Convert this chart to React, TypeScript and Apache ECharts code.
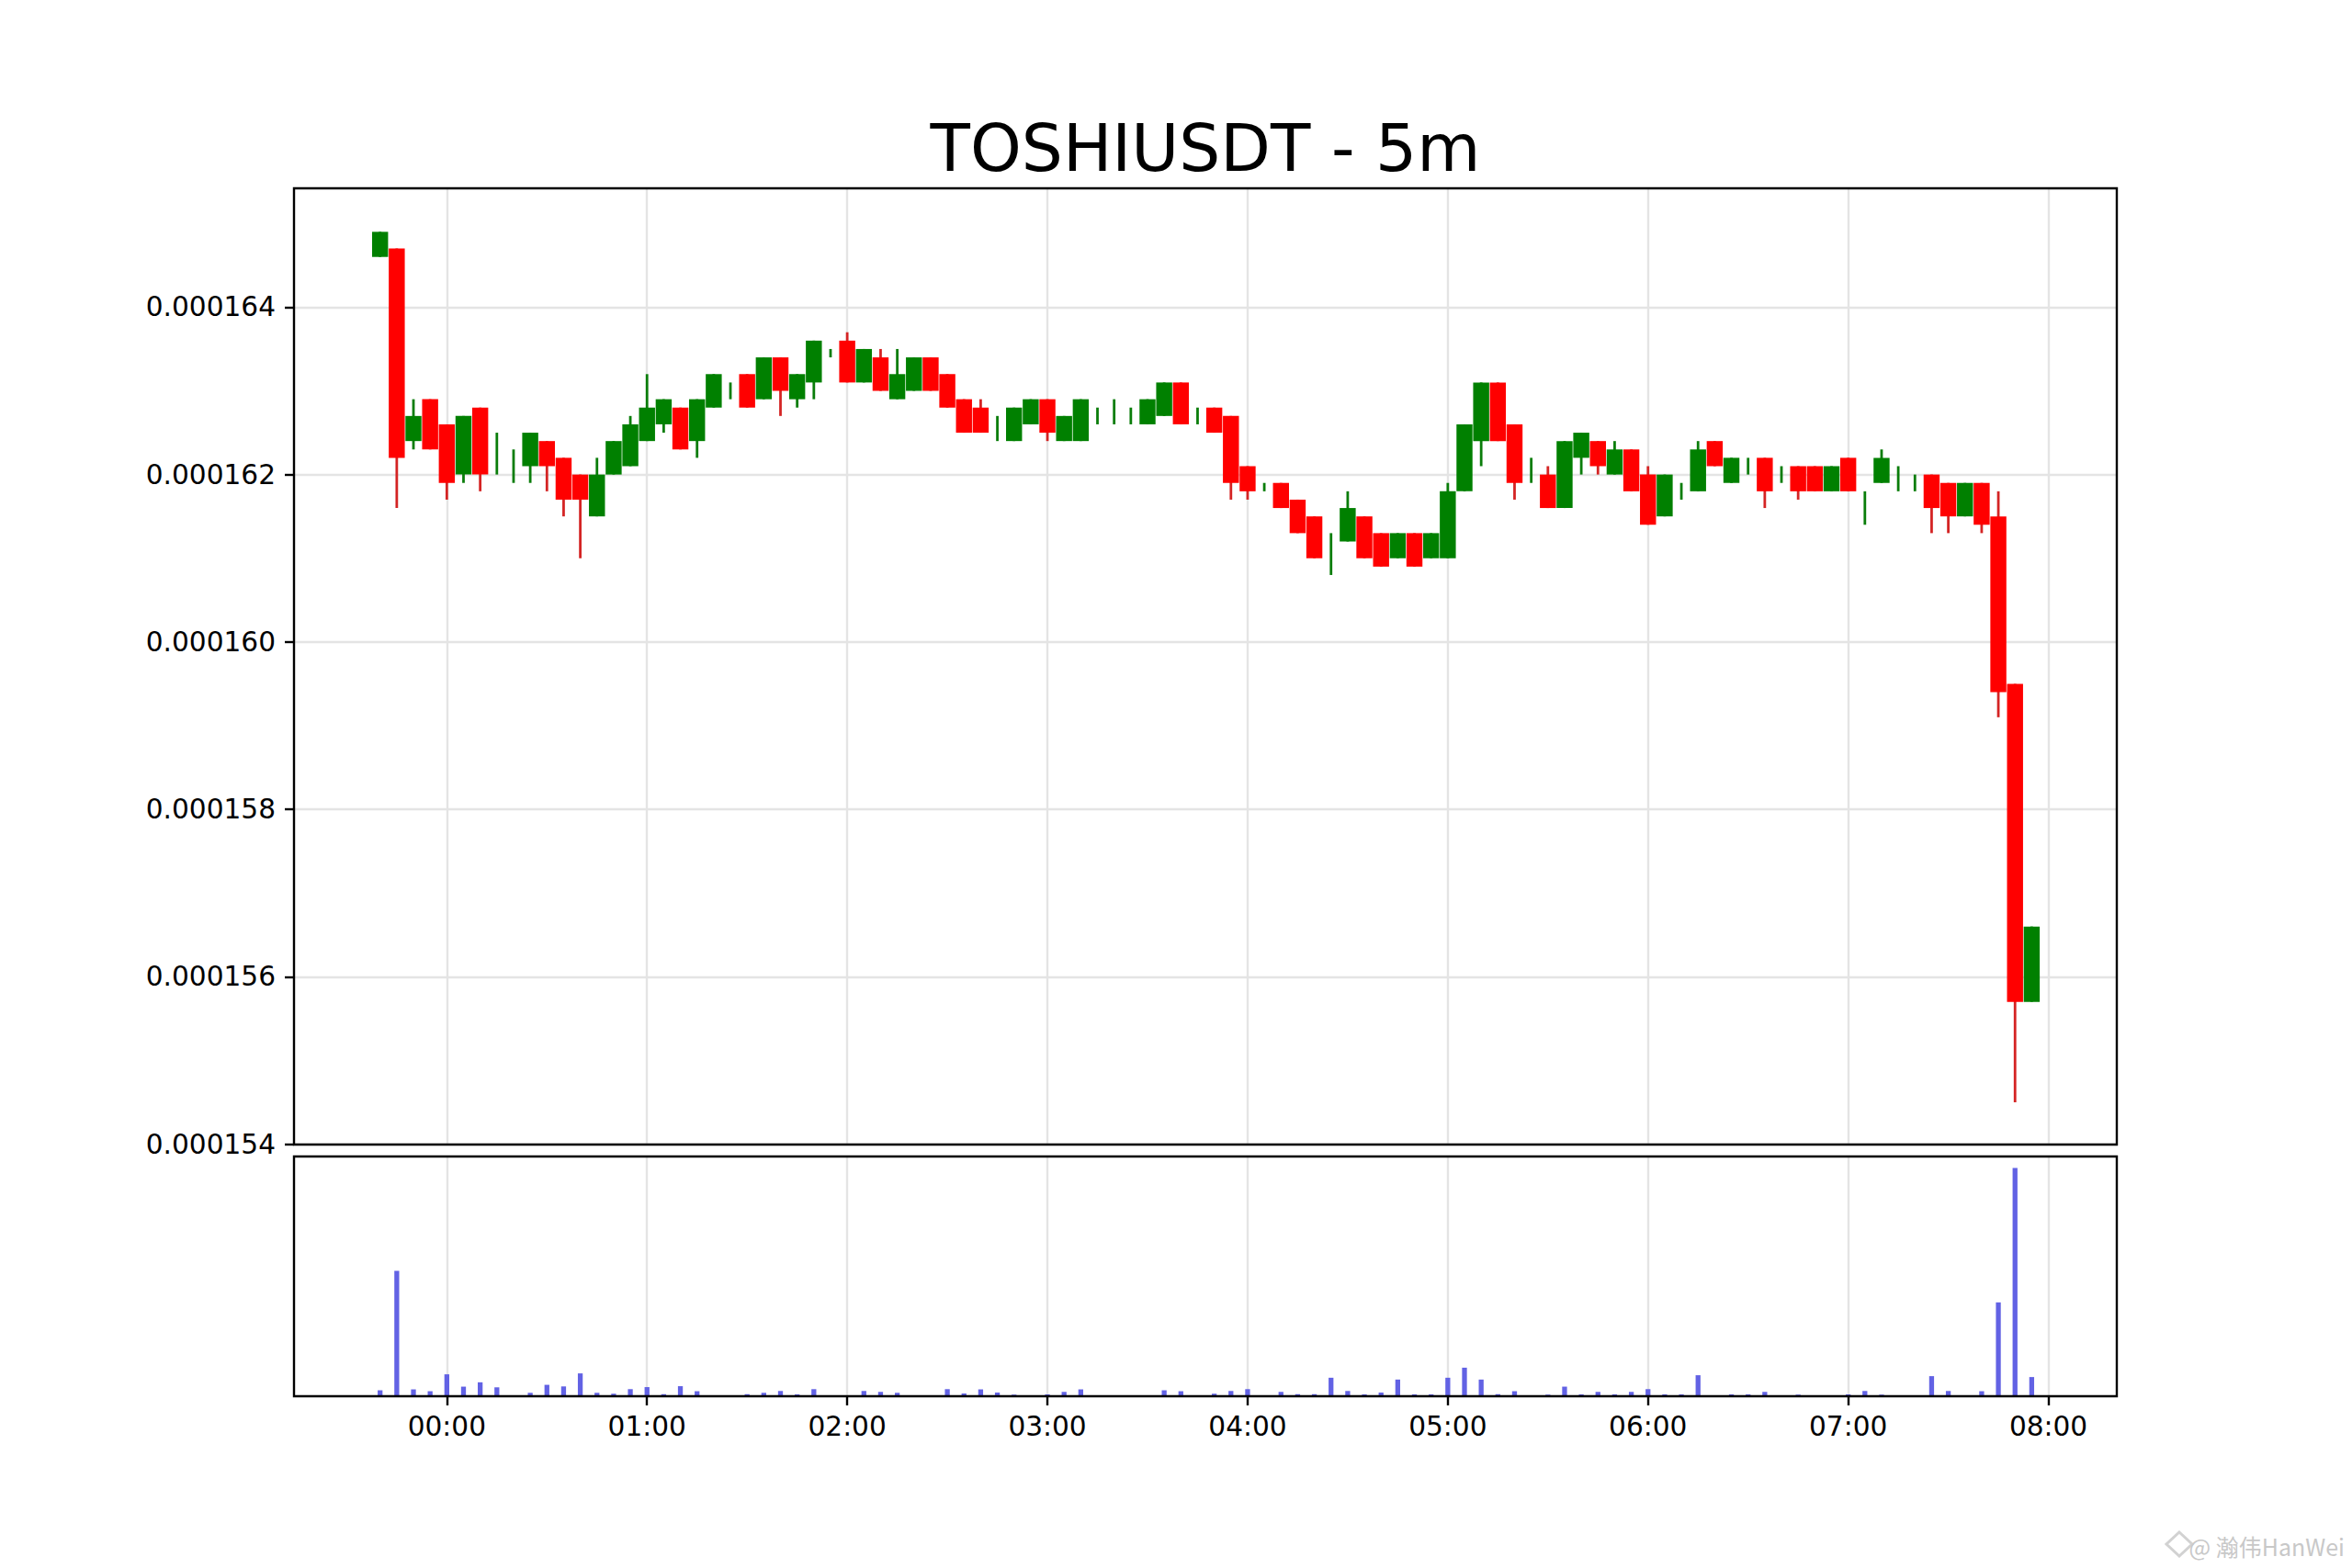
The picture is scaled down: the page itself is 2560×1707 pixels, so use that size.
import React, { useEffect, useRef } from "react";
import * as echarts from "echarts";

const TITLE = "TOSHIUSDT - 5m";
const WATERMARK = "@ 瀚伟HanWei";

const TIMES = [
  "23:40", "23:45", "23:50", "23:55",
  "00:00", "00:05", "00:10", "00:15", "00:20", "00:25", "00:30", "00:35", "00:40", "00:45", "00:50", "00:55",
  "01:00", "01:05", "01:10", "01:15", "01:20", "01:25", "01:30", "01:35", "01:40", "01:45", "01:50", "01:55",
  "02:00", "02:05", "02:10", "02:15", "02:20", "02:25", "02:30", "02:35", "02:40", "02:45", "02:50", "02:55",
  "03:00", "03:05", "03:10", "03:15", "03:20", "03:25", "03:30", "03:35", "03:40", "03:45", "03:50", "03:55",
  "04:00", "04:05", "04:10", "04:15", "04:20", "04:25", "04:30", "04:35", "04:40", "04:45", "04:50", "04:55",
  "05:00", "05:05", "05:10", "05:15", "05:20", "05:25", "05:30", "05:35", "05:40", "05:45", "05:50", "05:55",
  "06:00", "06:05", "06:10", "06:15", "06:20", "06:25", "06:30", "06:35", "06:40", "06:45", "06:50", "06:55",
  "07:00", "07:05", "07:10", "07:15", "07:20", "07:25", "07:30", "07:35", "07:40", "07:45", "07:50", "07:55",
];

const OPEN = [
  0.0001646, 0.0001647, 0.0001624, 0.0001629, 0.0001626, 0.000162, 0.0001628, 0.000162, 0.000162, 0.0001621,
  0.0001624, 0.0001622, 0.000162, 0.0001615, 0.000162, 0.0001621, 0.0001624, 0.0001626, 0.0001628, 0.0001624,
  0.0001628, 0.0001631, 0.0001632, 0.0001629, 0.0001634, 0.0001629, 0.0001631, 0.0001635, 0.0001636, 0.0001631,
  0.0001634, 0.0001629, 0.000163, 0.0001634, 0.0001632, 0.0001629, 0.0001628, 0.0001625, 0.0001624, 0.0001626,
  0.0001629, 0.0001624, 0.0001624, 0.0001627, 0.0001627, 0.0001627, 0.0001626, 0.0001627, 0.0001631, 0.0001627,
  0.0001628, 0.0001627, 0.0001621, 0.0001619, 0.0001619, 0.0001617, 0.0001615, 0.000161, 0.0001612, 0.0001615,
  0.0001613, 0.000161, 0.0001613, 0.000161, 0.000161, 0.0001618, 0.0001624, 0.0001631, 0.0001626, 0.000162,
  0.000162, 0.0001616, 0.0001622, 0.0001624, 0.000162, 0.0001623, 0.000162, 0.0001615, 0.0001618, 0.0001618,
  0.0001624, 0.0001619, 0.0001621, 0.0001622, 0.000162, 0.0001621, 0.0001621, 0.0001618, 0.0001622, 0.0001616,
  0.0001619, 0.000162, 0.0001619, 0.000162, 0.0001619, 0.0001615, 0.0001619, 0.0001615, 0.0001595, 0.0001557,
];

const HIGH = [
  0.0001649, 0.0001647, 0.0001629, 0.0001629, 0.0001626, 0.0001627, 0.0001628, 0.0001625, 0.0001623, 0.0001625,
  0.0001624, 0.0001622, 0.000162, 0.0001622, 0.0001624, 0.0001627, 0.0001632, 0.0001629, 0.0001628, 0.0001629,
  0.0001632, 0.0001631, 0.0001632, 0.0001634, 0.0001634, 0.0001632, 0.0001636, 0.0001635, 0.0001637, 0.0001635,
  0.0001635, 0.0001635, 0.0001634, 0.0001634, 0.0001632, 0.0001629, 0.0001629, 0.0001627, 0.0001628, 0.0001629,
  0.0001629, 0.0001627, 0.0001629, 0.0001628, 0.0001629, 0.0001628, 0.0001629, 0.0001631, 0.0001631, 0.0001628,
  0.0001628, 0.0001627, 0.0001621, 0.0001619, 0.0001619, 0.0001617, 0.0001615, 0.0001613, 0.0001618, 0.0001615,
  0.0001613, 0.0001613, 0.0001613, 0.0001613, 0.0001619, 0.0001626, 0.0001631, 0.0001631, 0.0001626, 0.0001622,
  0.0001621, 0.0001624, 0.0001625, 0.0001624, 0.0001624, 0.0001623, 0.0001621, 0.000162, 0.0001619, 0.0001624,
  0.0001624, 0.0001622, 0.0001622, 0.0001622, 0.0001621, 0.0001621, 0.0001621, 0.0001621, 0.0001622, 0.0001618,
  0.0001623, 0.0001621, 0.000162, 0.000162, 0.0001619, 0.0001619, 0.0001619, 0.0001618, 0.0001595, 0.0001566,
];

const LOW = [
  0.0001646, 0.0001616, 0.0001623, 0.0001623, 0.0001617, 0.0001619, 0.0001618, 0.000162, 0.0001619, 0.0001619,
  0.0001618, 0.0001615, 0.000161, 0.0001615, 0.000162, 0.0001621, 0.0001624, 0.0001625, 0.0001623, 0.0001622,
  0.0001628, 0.0001629, 0.0001628, 0.0001629, 0.0001627, 0.0001628, 0.0001629, 0.0001634, 0.0001631, 0.0001631,
  0.000163, 0.0001629, 0.000163, 0.000163, 0.0001628, 0.0001625, 0.0001625, 0.0001624, 0.0001624, 0.0001626,
  0.0001624, 0.0001624, 0.0001624, 0.0001626, 0.0001626, 0.0001626, 0.0001626, 0.0001627, 0.0001626, 0.0001626,
  0.0001625, 0.0001617, 0.0001617, 0.0001618, 0.0001616, 0.0001613, 0.000161, 0.0001608, 0.0001612, 0.000161,
  0.0001609, 0.000161, 0.0001609, 0.000161, 0.000161, 0.0001618, 0.0001621, 0.0001624, 0.0001617, 0.0001619,
  0.0001616, 0.0001616, 0.000162, 0.000162, 0.000162, 0.0001618, 0.0001614, 0.0001615, 0.0001617, 0.0001618,
  0.0001621, 0.0001619, 0.000162, 0.0001616, 0.0001619, 0.0001617, 0.0001618, 0.0001618, 0.0001618, 0.0001614,
  0.0001619, 0.0001618, 0.0001618, 0.0001613, 0.0001613, 0.0001615, 0.0001613, 0.0001591, 0.0001545, 0.0001557,
];

const CLOSE = [
  0.0001649, 0.0001622, 0.0001627, 0.0001623, 0.0001619, 0.0001627, 0.000162, 0.000162, 0.000162, 0.0001625,
  0.0001621, 0.0001617, 0.0001617, 0.000162, 0.0001624, 0.0001626, 0.0001628, 0.0001629, 0.0001623, 0.0001629,
  0.0001632, 0.0001631, 0.0001628, 0.0001634, 0.000163, 0.0001632, 0.0001636, 0.0001635, 0.0001631, 0.0001635,
  0.000163, 0.0001632, 0.0001634, 0.000163, 0.0001628, 0.0001625, 0.0001625, 0.0001625, 0.0001628, 0.0001629,
  0.0001625, 0.0001627, 0.0001629, 0.0001627, 0.0001627, 0.0001627, 0.0001629, 0.0001631, 0.0001626, 0.0001627,
  0.0001625, 0.0001619, 0.0001618, 0.0001619, 0.0001616, 0.0001613, 0.000161, 0.000161, 0.0001616, 0.000161,
  0.0001609, 0.0001613, 0.0001609, 0.0001613, 0.0001618, 0.0001626, 0.0001631, 0.0001624, 0.0001619, 0.000162,
  0.0001616, 0.0001624, 0.0001625, 0.0001621, 0.0001623, 0.0001618, 0.0001614, 0.000162, 0.0001618, 0.0001623,
  0.0001621, 0.0001622, 0.0001621, 0.0001618, 0.000162, 0.0001618, 0.0001618, 0.0001621, 0.0001618, 0.0001616,
  0.0001622, 0.000162, 0.0001619, 0.0001616, 0.0001615, 0.0001619, 0.0001614, 0.0001594, 0.0001557, 0.0001566,
];

// relative volume (no scale shown in the reference)
const VOLUME = [
  2.6, 54.9, 3.0, 2.2, 9.6, 4.2, 6.1, 3.9, 0.4, 1.5,
  5.0, 4.3, 10.0, 1.5, 1.1, 3.1, 4.0, 0.9, 4.4, 2.2,
  0.3, 0.3, 0.9, 1.5, 2.3, 0.8, 3.1, 0.2, 0.3, 2.3,
  1.9, 1.5, 0.2, 0.2, 3.1, 1.2, 3.0, 1.6, 0.7, 0.2,
  0.8, 1.9, 3.0, 0.3, 0.3, 0.2, 0.4, 2.6, 2.2, 0.4,
  1.1, 2.3, 3.1, 0.3, 1.9, 0.9, 0.9, 8.1, 2.3, 0.8,
  1.6, 7.3, 0.8, 0.8, 8.1, 12.5, 7.3, 0.9, 2.2, 0.3,
  0.7, 4.2, 0.8, 1.9, 0.8, 1.9, 3.1, 0.8, 0.8, 9.2,
  0.3, 0.8, 0.8, 1.9, 0.3, 0.7, 0.2, 0.3, 0.8, 2.3,
  0.7, 0.3, 0.3, 8.8, 2.3, 0.3, 2.2, 41.1, 100, 8.4,
];

const HOUR_TICKS = [0, 60, 120, 180, 240, 300, 360, 420, 480];
const PRICE_TICKS = [0.000154, 0.000156, 0.000158, 0.00016, 0.000162, 0.000164];

const X_MIN = -45.8;
const X_MAX = 500.5;
const Y_MIN = 0.000153995;
const Y_MAX = 0.00016542;
const BODY_W = 4.8; // minutes
const FONT = "DejaVu Sans";

function toMinutes(t: string): number {
  const [h, m] = t.split(":").map(Number);
  const v = h * 60 + m;
  return h >= 12 ? v - 1440 : v;
}

function fmtTime(v: number): string {
  const m = ((Math.round(v) % 1440) + 1440) % 1440;
  const hh = String(Math.floor(m / 60)).padStart(2, "0");
  const mm = String(m % 60).padStart(2, "0");
  return `${hh}:${mm}`;
}

export default function App() {
  const ref = useRef<HTMLDivElement>(null);

  useEffect(() => {
    if (!ref.current) return;
    const chart = echarts.init(ref.current, undefined, { renderer: "svg" });
    const xs = TIMES.map(toMinutes);
    const candleData = xs.map((x, i) => [x, OPEN[i], CLOSE[i], LOW[i], HIGH[i]]);
    const volData = xs.map((x, i) => [x, VOLUME[i]]);
    const volMax = Math.max(...VOLUME) * 1.05;

    const gridLine = { show: true, lineStyle: { color: "#e4e4e4", width: 2.4 } };
    const tickStyle = { color: "#000", width: 2.4 };
    const labelStyle = { color: "#000", fontSize: 29.6, fontFamily: FONT };
    const noLine = { show: false, onZero: false };

    const option: any = {
      animation: false,
      backgroundColor: "#ffffff",
      grid: [
        { left: 320, top: 205, width: 1984, height: 1041, show: true, borderColor: "#000", borderWidth: 2.4, backgroundColor: "transparent", z: 5 },
        { left: 320, top: 1259, width: 1984, height: 261, show: true, borderColor: "#000", borderWidth: 2.4, backgroundColor: "transparent", z: 5 },
      ],
      xAxis: [
        {
          type: "value", gridIndex: 0, min: X_MIN, max: X_MAX, position: "bottom",
          axisLine: noLine,
          axisTick: { show: false, customValues: HOUR_TICKS },
          axisLabel: { show: false, customValues: HOUR_TICKS },
          splitLine: gridLine,
        },
        {
          type: "value", gridIndex: 1, min: X_MIN, max: X_MAX, position: "bottom",
          axisLine: noLine,
          axisTick: { show: true, length: 10, lineStyle: tickStyle, customValues: HOUR_TICKS },
          axisLabel: { ...labelStyle, margin: 18, customValues: HOUR_TICKS, formatter: (v: number) => fmtTime(v) },
          splitLine: gridLine,
        },
      ],
      yAxis: [
        {
          type: "value", gridIndex: 0, min: Y_MIN, max: Y_MAX, position: "left",
          axisLine: noLine,
          axisTick: { show: true, length: 10, lineStyle: tickStyle, customValues: PRICE_TICKS },
          axisLabel: { ...labelStyle, margin: 20, customValues: PRICE_TICKS, formatter: (v: number) => v.toFixed(6) },
          splitLine: gridLine,
        },
        {
          type: "value", gridIndex: 1, min: 0, max: volMax, position: "left",
          axisLine: noLine, axisTick: { show: false }, axisLabel: { show: false }, splitLine: { show: false },
        },
      ],
      series: [
        {
          type: "custom",
          name: "price",
          xAxisIndex: 0,
          yAxisIndex: 0,
          clip: true,
          encode: { x: 0, y: [1, 2, 3, 4] },
          data: candleData,
          renderItem: (params: any, api: any) => {
            const x = api.value(0);
            const o = api.value(1);
            const c = api.value(2);
            const l = api.value(3);
            const h = api.value(4);
            const po = api.coord([x, o]);
            const pc = api.coord([x, c]);
            const pl = api.coord([x, l]);
            const ph = api.coord([x, h]);
            const w = api.size([BODY_W, 0])[0];
            const up = c >= o;
            const bodyColor = up ? "#008000" : "#ff0000";
            const wickColor = up ? "#0a7d0a" : "#d42424";
            const top = Math.min(po[1], pc[1]);
            const hgt = Math.abs(po[1] - pc[1]);
            const children: any[] = [
              { type: "line", shape: { x1: ph[0], y1: ph[1], x2: pl[0], y2: pl[1] }, style: { stroke: wickColor, lineWidth: 2.8 } },
            ];
            if (hgt > 0.01) {
              children.push({ type: "rect", shape: { x: po[0] - w / 2, y: top, width: w, height: hgt }, style: { fill: bodyColor } });
            }
            return { type: "group", children };
          },
        },
        {
          type: "bar",
          name: "volume",
          xAxisIndex: 1,
          yAxisIndex: 1,
          data: volData,
          barWidth: 5.3,
          itemStyle: { color: "#6262e4" },
        },
      ],
      graphic: [
        {
          type: "text",
          x: 1312,
          y: 161,
          style: { text: TITLE, fill: "#000", font: `71px "${FONT}"`, textAlign: "center", textVerticalAlign: "middle" },
        },
        {
          type: "polygon",
          shape: { points: [[2372, 1668], [2386, 1681], [2372, 1694], [2358, 1681]] },
          style: { fill: "none", stroke: "#d2d2d2", lineWidth: 3 },
        },
        {
          type: "text",
          x: 2552,
          y: 1683,
          style: { text: WATERMARK, fill: "#c8c8c8", font: `25px "Noto Sans CJK SC"`, textAlign: "right", textVerticalAlign: "middle" },
        },
      ],
    };

    chart.setOption(option);
    return () => chart.dispose();
  }, []);

  return (
    <div
      ref={ref}
      style={{ position: "absolute", left: 0, top: 0, width: "2560px", height: "1707px", background: "#fff" }}
    />
  );
}
